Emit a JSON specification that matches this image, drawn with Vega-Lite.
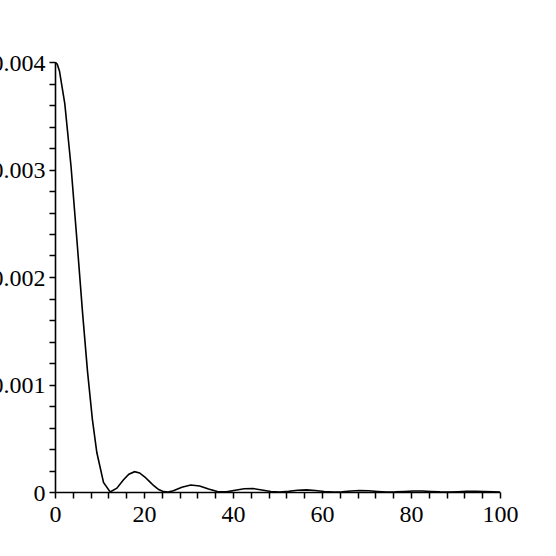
{
  "$schema": "https://vega.github.io/schema/vega-lite/v6.json",
  "width": 445,
  "height": 430,
  "autosize": {"type": "none"},
  "padding": {"left": 55, "top": 62, "right": 56, "bottom": 64},
  "background": "white",
  "config": {"view": {"stroke": null}},
  "data": {"values": [
    {"x": 0, "y": 0.004},
    {"x": 0.5, "y": 0.003979},
    {"x": 1, "y": 0.003917},
    {"x": 2.2, "y": 0.003613},
    {"x": 3.6, "y": 0.00303},
    {"x": 5, "y": 0.002305},
    {"x": 6.2, "y": 0.001664},
    {"x": 7.3, "y": 0.001125},
    {"x": 8.4, "y": 0.000676},
    {"x": 9.4, "y": 0.000367},
    {"x": 10.9, "y": 0.0000887},
    {"x": 12.4, "y": 0.0000007},
    {"x": 13.9, "y": 0.0000355},
    {"x": 15.4, "y": 0.000114},
    {"x": 16.6, "y": 0.000166},
    {"x": 17.9, "y": 0.000189},
    {"x": 19, "y": 0.000177},
    {"x": 20.2, "y": 0.0001396},
    {"x": 21.2, "y": 0.0000986},
    {"x": 22.2, "y": 0.0000583},
    {"x": 23.3, "y": 0.0000231},
    {"x": 24.4, "y": 0.0000036},
    {"x": 25.4, "y": 0.0000004},
    {"x": 26.6, "y": 0.0000116},
    {"x": 28.5, "y": 0.0000439},
    {"x": 30.5, "y": 0.0000653},
    {"x": 32.5, "y": 0.0000563},
    {"x": 34.5, "y": 0.0000277},
    {"x": 36.5, "y": 0.0000042},
    {"x": 38.5, "y": 0.0000017},
    {"x": 40.5, "y": 0.0000162},
    {"x": 42.5, "y": 0.0000308},
    {"x": 44.5, "y": 0.0000318},
    {"x": 46.5, "y": 0.0000193},
    {"x": 48.5, "y": 0.000005},
    {"x": 50.5, "y": 0.0000001},
    {"x": 52.5, "y": 0.0000065},
    {"x": 54.5, "y": 0.0000164},
    {"x": 56.5, "y": 0.00002},
    {"x": 58.5, "y": 0.0000146},
    {"x": 60.5, "y": 0.0000053},
    {"x": 62.5, "y": 0.0000001},
    {"x": 64.5, "y": 0.0000025},
    {"x": 66.5, "y": 0.0000091},
    {"x": 68.5, "y": 0.0000133},
    {"x": 70.5, "y": 0.0000114},
    {"x": 72.5, "y": 0.0000053},
    {"x": 74.5, "y": 0.0000006},
    {"x": 76.5, "y": 0.0000008},
    {"x": 78.5, "y": 0.0000051},
    {"x": 80.5, "y": 0.000009},
    {"x": 82.5, "y": 0.000009},
    {"x": 84.5, "y": 0.0000052},
    {"x": 86.5, "y": 0.0000011},
    {"x": 88.5, "y": 0.0000002},
    {"x": 90.5, "y": 0.0000027},
    {"x": 92.5, "y": 0.0000061},
    {"x": 94.5, "y": 0.0000071},
    {"x": 96.5, "y": 0.0000049},
    {"x": 98.5, "y": 0.0000016},
    {"x": 100, "y": 0.0000001}
  ]},
  "mark": {"type": "line", "color": "black", "strokeWidth": 1.6, "clip": true},
  "encoding": {
    "x": {
      "field": "x", "type": "quantitative",
      "scale": {"domain": [0, 100], "nice": false, "zero": false},
      "axis": {
        "title": null, "grid": false,
        "values": [0,4,8,12,16,20,24,28,32,36,40,44,48,52,56,60,64,68,72,76,80,84,88,92,96,100],
        "labelExpr": "datum.value % 20 == 0 ? format(datum.value, 'd') : ''",
        "domainColor": "black", "domainWidth": 1.6,
        "tickColor": "black", "tickWidth": 1.5, "tickSize": 6,
        "labelFont": "Liberation Serif", "labelFontSize": 24, "labelColor": "black",
        "labelPadding": 4, "labelFlush": false, "labelOverlap": false
      }
    },
    "y": {
      "field": "y", "type": "quantitative",
      "scale": {"domain": [0, 0.004], "nice": false},
      "axis": {
        "title": null, "grid": false,
        "values": [0,0.0002,0.0004,0.0006,0.0008,0.001,0.0012,0.0014,0.0016,0.0018,0.002,0.0022,0.0024,0.0026,0.0028,0.003,0.0032,0.0034,0.0036,0.0038,0.004],
        "labelExpr": "abs(datum.value) < 1e-9 ? '0' : (abs(datum.value * 1000 - round(datum.value * 1000)) < 1e-6 ? format(datum.value, '.3f') : '')",
        "domainColor": "black", "domainWidth": 1.6,
        "tickColor": "black", "tickWidth": 1.5, "tickSize": 6,
        "labelFont": "Liberation Serif", "labelFontSize": 24, "labelColor": "black",
        "labelPadding": 4, "labelFlush": false, "labelOverlap": false, "labelOffset": 1
      }
    }
  }
}
